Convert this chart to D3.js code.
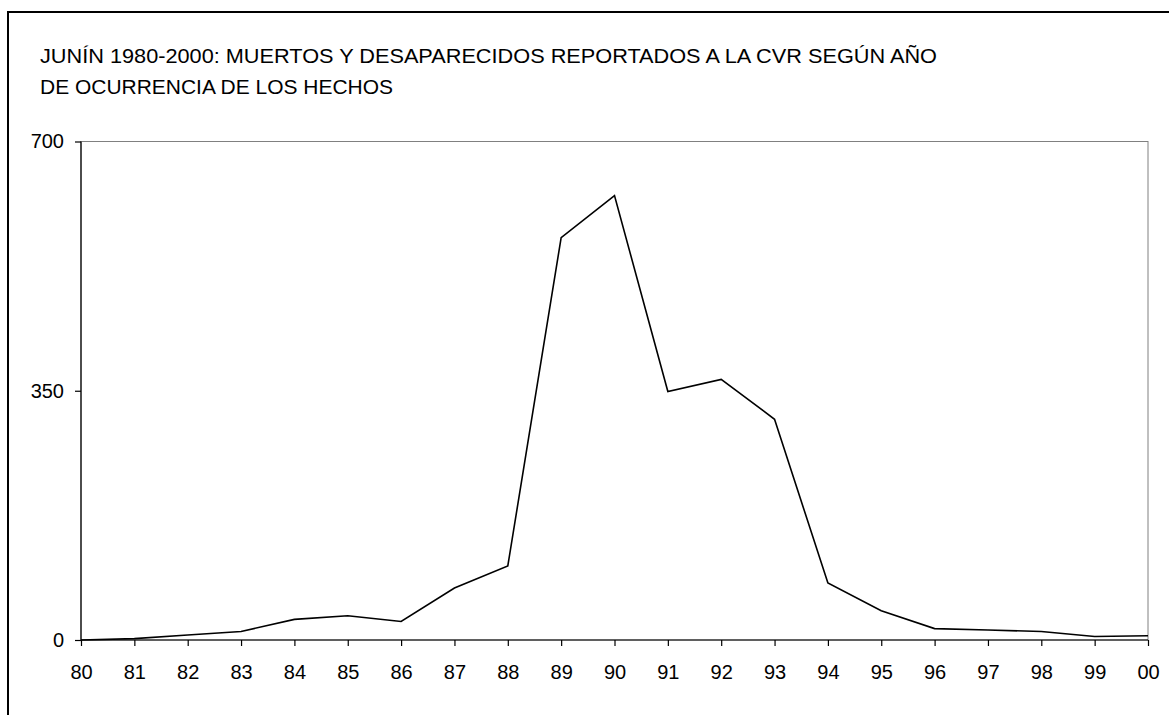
<!DOCTYPE html>
<html>
<head>
<meta charset="utf-8">
<script src="https://cdn.jsdelivr.net/npm/d3@7"></script>
<style>
html,body{margin:0;padding:0;background:#fff;}
svg{display:block;}
text{font-family:"Liberation Sans",Arial,sans-serif;fill:#000;}
</style>
</head>
<body>
<svg id="chart" width="1169" height="715"></svg>
<script>
const titleLines = ["JUNÍN 1980-2000: MUERTOS Y DESAPARECIDOS REPORTADOS A LA CVR SEGÚN AÑO", "DE OCURRENCIA DE LOS HECHOS"];
const titleWidths = [897, 353];
const years = ["80","81","82","83","84","85","86","87","88","89","90","91","92","93","94","95","96","97","98","99","00"];
const victims = [0, 2, 7, 12, 29, 34, 26, 73, 104, 565, 624, 349, 366, 310, 80, 41, 16, 14, 12, 5, 6];
const yTicks = [0, 350, 700];

const svg = d3.select("#chart");
const pLeft = 81, pRight = 1148, pTop = 141.5, pBottom = 640;
const fontFam = "Liberation Sans";

// outer frame
svg.append("rect").attr("x", 8).attr("y", 12).attr("width", 1200).attr("height", 800)
  .attr("fill", "none").attr("stroke", "#000").attr("stroke-width", 2);

// title
const t = svg.append("g");
titleLines.forEach((s, i) => {
  t.append("text").attr("x", 40).attr("y", 62.5 + i * 31)
    .attr("font-family", fontFam).attr("font-size", 20.5)
    .attr("textLength", titleWidths[i]).attr("lengthAdjust", "spacingAndGlyphs")
    .text(s);
});

const x = d3.scalePoint().domain(years).range([pLeft, pRight]);
const y = d3.scaleLinear().domain([0, 700]).range([pBottom, pTop]);

// plot border (gray)
svg.append("rect").attr("x", pLeft).attr("y", pTop).attr("width", pRight - pLeft).attr("height", pBottom - pTop)
  .attr("fill", "none").attr("stroke", "#808080").attr("stroke-width", 1);

// axes
const xAxis = svg.append("g").attr("transform", `translate(0,${pBottom})`)
  .call(d3.axisBottom(x).tickSize(6).tickPadding(19));
const yAxis = svg.append("g").attr("transform", `translate(${pLeft},0)`)
  .call(d3.axisLeft(y).tickValues(yTicks).tickSize(6).tickPadding(11));
[xAxis, yAxis].forEach(g => {
  g.attr("font-family", fontFam).attr("font-size", 20);
  g.select(".domain").attr("stroke", "#000").attr("stroke-width", 1.2);
  g.selectAll(".tick line").attr("stroke", "#000").attr("stroke-width", 1.2);
  g.selectAll(".tick text").attr("fill", "#000");
});
xAxis.select(".domain").attr("d", `M${pLeft},0H${pRight}`);
yAxis.select(".domain").attr("d", `M0,${pTop}V${pBottom}`);

// line
const line = d3.line().x((d, i) => x(years[i])).y(d => y(d));
svg.append("path").datum(victims).attr("d", line)
  .attr("fill", "none").attr("stroke", "#000").attr("stroke-width", 1.6).attr("stroke-linejoin", "miter");
</script>
</body>
</html>
